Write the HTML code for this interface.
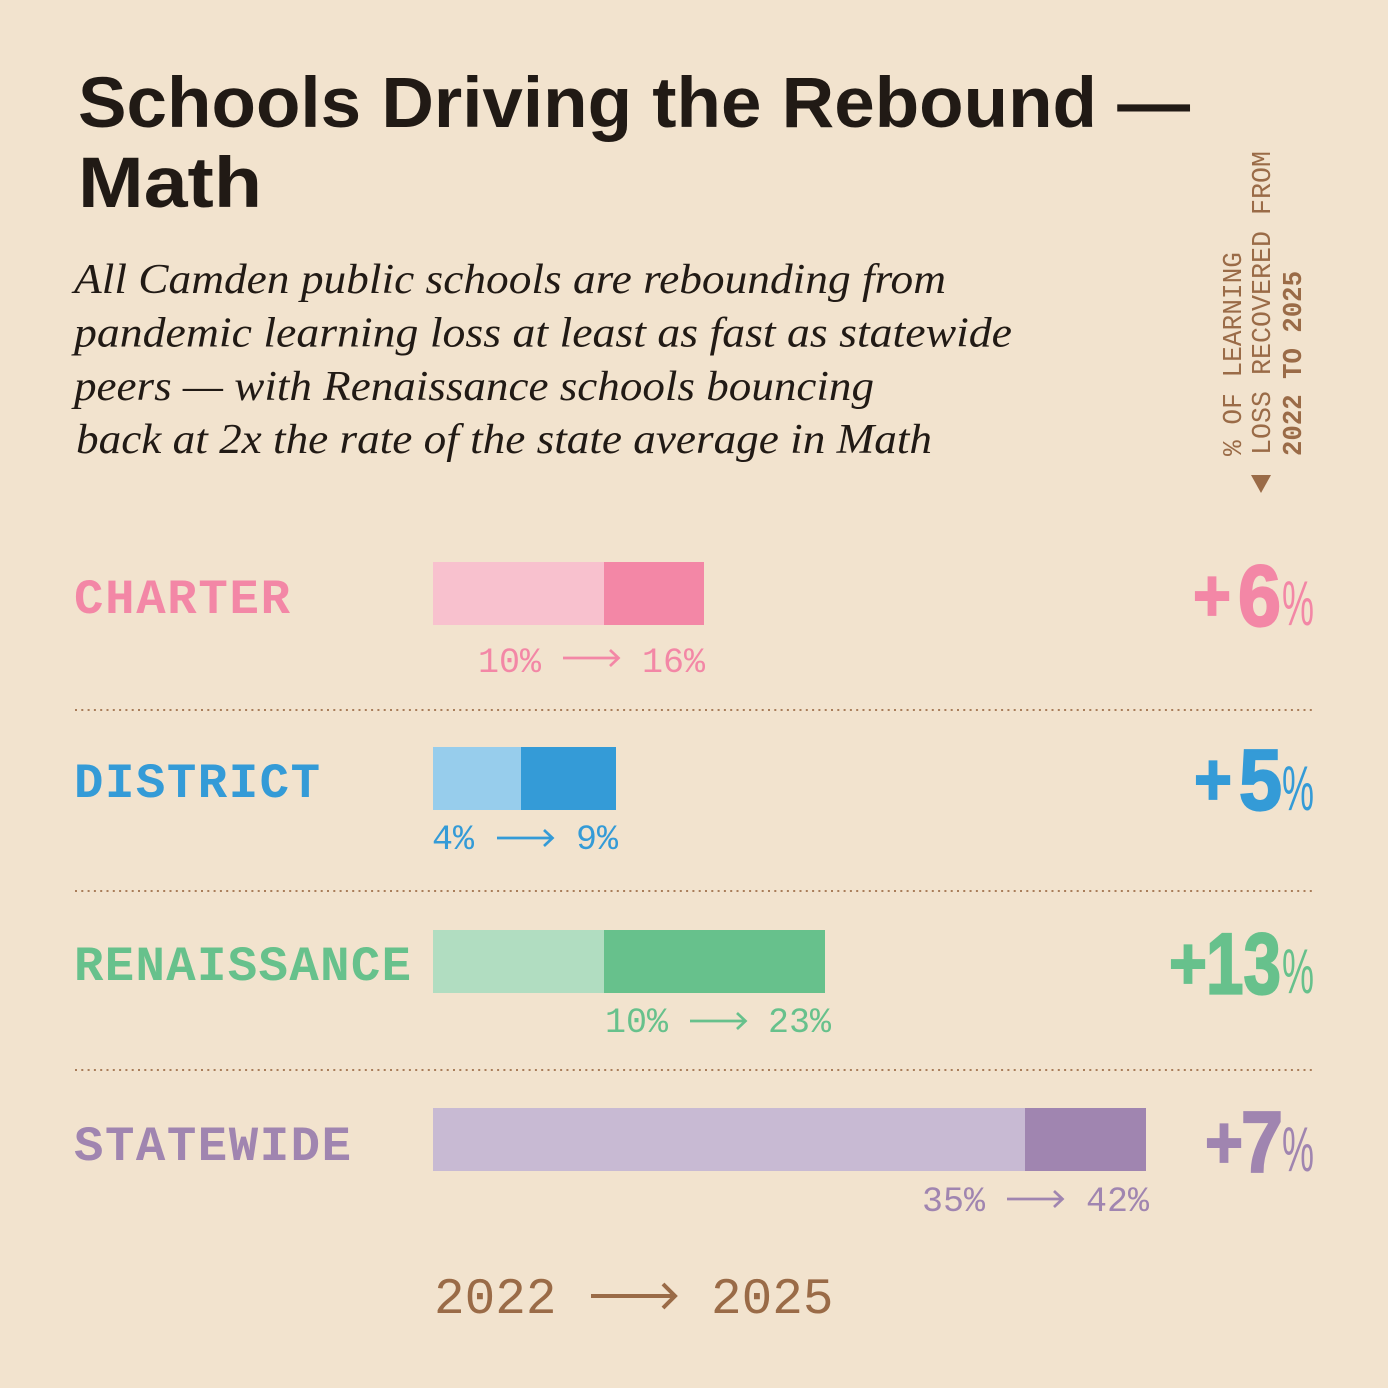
<!DOCTYPE html>
<html>
<head>
<meta charset="utf-8">
<style>
  html,body{margin:0;padding:0;background:#F2E3CE;}
  svg{display:block;}
  .mono{font-family:"Liberation Mono","DejaVu Sans Mono",monospace;}
  .sans{font-family:"Liberation Sans","DejaVu Sans",sans-serif;}
  .serif{font-family:"Liberation Serif","DejaVu Serif",serif;}
</style>
</head>
<body>
<svg width="1388" height="1388" viewBox="0 0 1388 1388" xmlns="http://www.w3.org/2000/svg">
  <rect x="0" y="0" width="1388" height="1388" fill="#F2E3CE"/>

  <!-- Title -->
  <text class="sans" x="78" y="127" font-size="71" font-weight="bold" fill="#211A15" textLength="1112" lengthAdjust="spacingAndGlyphs">Schools Driving the Rebound —</text>
  <text class="sans" x="78" y="207" font-size="71" font-weight="bold" fill="#211A15" textLength="184" lengthAdjust="spacingAndGlyphs">Math</text>

  <!-- Subtitle -->
  <g class="serif" font-style="italic" font-size="42" fill="#211A15">
    <text x="74" y="293" textLength="872" lengthAdjust="spacingAndGlyphs">All Camden public schools are rebounding from</text>
    <text x="74" y="346.5" textLength="938" lengthAdjust="spacingAndGlyphs">pandemic learning loss at least as fast as statewide</text>
    <text x="74" y="400" textLength="800" lengthAdjust="spacingAndGlyphs">peers — with Renaissance schools bouncing</text>
    <text x="76" y="453" textLength="856" lengthAdjust="spacingAndGlyphs">back at 2x the rate of the state average in Math</text>
  </g>

  <!-- Rotated side label -->
  <g class="mono" font-size="27" fill="#9A6B47">
    <text transform="translate(1241,456) rotate(-90)" x="0" y="0" textLength="204" lengthAdjust="spacingAndGlyphs">% OF LEARNING</text>
    <text transform="translate(1270,455) rotate(-90)" x="0" y="0" textLength="304" lengthAdjust="spacingAndGlyphs">LOSS RECOVERED FROM</text>
    <text transform="translate(1301,456) rotate(-90)" x="0" y="0" font-weight="bold" textLength="185" lengthAdjust="spacingAndGlyphs">2022 TO 2025</text>
  </g>
  <polygon points="1251,475 1271,475 1261,493" fill="#9A6B47"/>

  <!-- Dividers -->
  <g stroke="#A97D5A" stroke-width="2" stroke-dasharray="2 4.3">
    <line x1="75" y1="710" x2="1313" y2="710"/>
    <line x1="75" y1="891" x2="1313" y2="891"/>
    <line x1="75" y1="1070" x2="1313" y2="1070"/>
  </g>

  <!-- Row labels -->
  <g class="mono" font-weight="bold" font-size="49">
    <text x="74" y="613" fill="#F387A6" textLength="216" lengthAdjust="spacing">CHARTER</text>
    <text x="74" y="797" fill="#349BD7" textLength="246" lengthAdjust="spacing">DISTRICT</text>
    <text x="74" y="980" fill="#67C18C" textLength="337" lengthAdjust="spacing">RENAISSANCE</text>
    <text x="74" y="1160" fill="#A085B0" textLength="277" lengthAdjust="spacing">STATEWIDE</text>
  </g>

  <!-- Bars -->
  <rect x="433" y="562" width="171" height="63" fill="#F8C1CE"/>
  <rect x="604" y="562" width="100" height="63" fill="#F387A6"/>

  <rect x="433" y="747" width="88" height="63" fill="#97CDEC"/>
  <rect x="521" y="747" width="95" height="63" fill="#349BD7"/>

  <rect x="433" y="930" width="171" height="63" fill="#B1DDC1"/>
  <rect x="604" y="930" width="221" height="63" fill="#67C18C"/>

  <rect x="433" y="1108" width="592" height="63" fill="#C8BAD3"/>
  <rect x="1025" y="1108" width="121" height="63" fill="#A085B0"/>

  <!-- Value labels -->
  <g class="mono" font-size="35">
    <text x="478" y="672" fill="#F387A6">10%</text>
    <text x="642" y="672" fill="#F387A6">16%</text>
    <text x="432" y="849" fill="#349BD7">4%</text>
    <text x="576" y="849" fill="#349BD7">9%</text>
    <text x="605" y="1032" fill="#67C18C">10%</text>
    <text x="768" y="1032" fill="#67C18C">23%</text>
    <text x="922" y="1211" fill="#A085B0">35%</text>
    <text x="1086" y="1211" fill="#A085B0">42%</text>
  </g>

  <!-- small arrows -->
  <g fill="none" stroke-width="2.7" stroke-linecap="butt" stroke-linejoin="miter">
    <g stroke="#F387A6">
      <line x1="563" y1="658" x2="618" y2="658"/>
      <polyline points="610,650 618.5,658 610,666"/>
    </g>
    <g stroke="#349BD7">
      <line x1="497" y1="838" x2="552" y2="838"/>
      <polyline points="544,830 552.5,838 544,846"/>
    </g>
    <g stroke="#67C18C">
      <line x1="690" y1="1021" x2="745" y2="1021"/>
      <polyline points="737,1013 745.5,1021 737,1029"/>
    </g>
    <g stroke="#A085B0">
      <line x1="1007" y1="1199" x2="1062" y2="1199"/>
      <polyline points="1054,1191 1062.5,1199 1054,1207"/>
    </g>
  </g>

  <!-- Big numbers -->
  <g class="sans">
    <!-- +6% -->
    <text x="1193" y="621" font-size="74" font-weight="bold" fill="#F387A6" stroke="#F387A6" stroke-width="1.8" textLength="38" lengthAdjust="spacingAndGlyphs">+</text>
    <text x="1238" y="625.5" font-size="86" font-weight="bold" fill="#F387A6" stroke="#F387A6" stroke-width="2.2" textLength="43" lengthAdjust="spacingAndGlyphs">6</text>
    <text x="1282" y="625" font-size="63" fill="#F387A6" textLength="32" lengthAdjust="spacingAndGlyphs">%</text>

    <!-- +5% -->
    <text x="1194" y="805" font-size="74" font-weight="bold" fill="#349BD7" stroke="#349BD7" stroke-width="1.8" textLength="38" lengthAdjust="spacingAndGlyphs">+</text>
    <text x="1239" y="809.5" font-size="86" font-weight="bold" fill="#349BD7" stroke="#349BD7" stroke-width="2.2" textLength="43" lengthAdjust="spacingAndGlyphs">5</text>
    <text x="1282" y="810" font-size="63" fill="#349BD7" textLength="32" lengthAdjust="spacingAndGlyphs">%</text>

    <!-- +13% -->
    <text x="1169" y="989" font-size="74" font-weight="bold" fill="#67C18C" stroke="#67C18C" stroke-width="1.8" textLength="38" lengthAdjust="spacingAndGlyphs">+</text>
    <text x="1206" y="993.5" font-size="86" font-weight="bold" fill="#67C18C" stroke="#67C18C" stroke-width="2.2" textLength="75" lengthAdjust="spacingAndGlyphs">13</text>
    <text x="1282" y="993" font-size="63" fill="#67C18C" textLength="32" lengthAdjust="spacingAndGlyphs">%</text>

    <!-- +7% -->
    <text x="1205" y="1168" font-size="74" font-weight="bold" fill="#A085B0" stroke="#A085B0" stroke-width="1.8" textLength="38" lengthAdjust="spacingAndGlyphs">+</text>
    <text x="1241" y="1171.5" font-size="86" font-weight="bold" fill="#A085B0" stroke="#A085B0" stroke-width="2.2" textLength="42" lengthAdjust="spacingAndGlyphs">7</text>
    <text x="1282" y="1171" font-size="63" fill="#A085B0" textLength="32" lengthAdjust="spacingAndGlyphs">%</text>
  </g>

  <!-- Bottom axis label -->
  <g class="mono" font-size="51" fill="#9A6B47">
    <text x="434" y="1313">2022</text>
    <text x="711" y="1313">2025</text>
  </g>
  <g fill="none" stroke="#9A6B47" stroke-width="4">
    <line x1="591" y1="1296" x2="674" y2="1296"/>
    <polyline points="663,1284 675,1296 663,1308"/>
  </g>
</svg>
</body>
</html>
